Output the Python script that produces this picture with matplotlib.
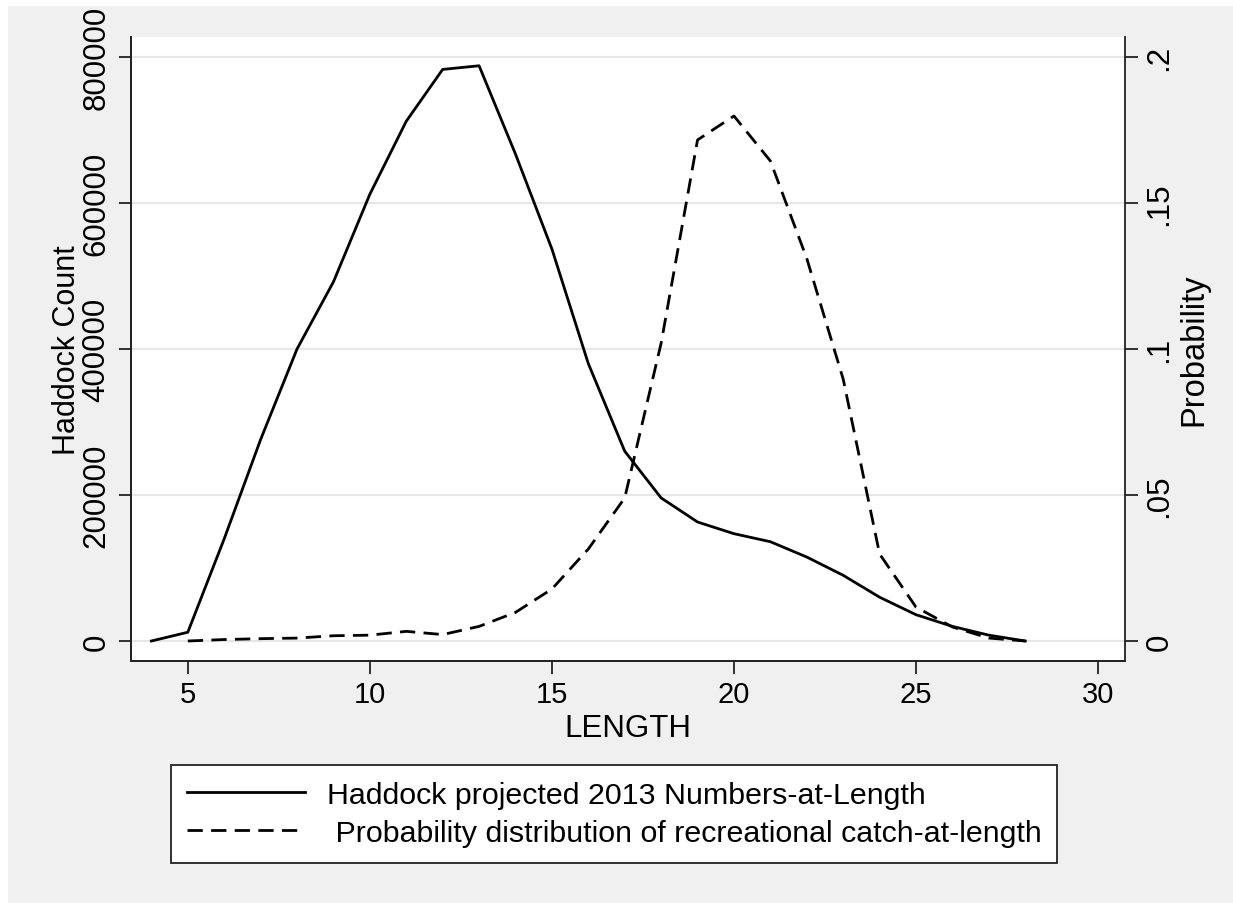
import numpy as np
import matplotlib
matplotlib.use('Agg')
import matplotlib.pyplot as plt
from matplotlib.patches import Rectangle

plt.rcParams['font.family'] = ['Liberation Sans', 'DejaVu Sans']

# haddock numbers-at-length (solid line, left axis)
len_count = [4, 5, 6, 7, 8, 9, 10, 11, 12, 13, 14, 15, 16, 17, 18, 19, 20,
             21, 22, 23, 24, 25, 26, 27, 28]
count = [0, 12000, 140000, 276000, 400000, 492000, 612000, 712000, 783000,
         788000, 667000, 537000, 380000, 260000, 196000, 163000, 147000,
         136000, 115000, 90000, 60000, 36000, 20000, 8000, 0]

# recreational catch probability (dashed line, right axis)
len_prob = [5, 6, 7, 8, 9, 10, 11, 12, 13, 14, 15, 16, 17, 18, 19, 20, 21,
            22, 23, 24, 25, 26, 27, 28]
prob = [0.0, 0.0005, 0.0008, 0.001, 0.0018, 0.002, 0.0033, 0.0022, 0.005,
        0.0098, 0.0178, 0.0315, 0.049, 0.102, 0.1716, 0.1798, 0.1644, 0.131,
        0.0897, 0.0298, 0.0116, 0.0048, 0.001, 0.0]

x_ticks = [5, 10, 15, 20, 25, 30]
count_ticks = [0, 200000, 400000, 600000, 800000]
prob_ticks = [0, 0.05, 0.1, 0.15, 0.2]
prob_labels = ['0', '.05', '.1', '.15', '.2']

W, H = 1233, 904
fig = plt.figure(figsize=(W / 100, H / 100), dpi=100, facecolor='white')
# grey graph region (white strip left/top from the original crop)
fig.patches.append(Rectangle((8 / W, 0), 1, 1 - 7 / H, transform=fig.transFigure,
                             facecolor='#f0f0f0', edgecolor='none', zorder=-10))

left, right, top, bottom = 131, 1125, 38, 662
ax = fig.add_axes([left / W, 1 - bottom / H, (right - left) / W, (bottom - top) / H])
ax.set_facecolor('white')

ax.plot(len_count, count, color='black', lw=2.0, zorder=3,
        label='Haddock projected 2013 Numbers-at-Length')

ax.set_xlim(3.44, 30.74)
ax.set_ylim(-27400, 827400)
ax.set_xticks(x_ticks)
ax.set_yticks(count_ticks)
ax.set_yticklabels([str(v) for v in count_ticks], rotation=90, va='center')
for v in count_ticks:
    ax.axhline(v, color='#e6e6e6', lw=1.5, zorder=1)

ax2 = ax.twinx()
ax2.plot(len_prob, prob, color='black', lw=2.0, dashes=(5.5, 3.0), zorder=3,
         label=' Probability distribution of recreational catch-at-length')
ax2.set_ylim(-27400 / 4e6, 827400 / 4e6)
ax2.set_yticks(prob_ticks)
ax2.set_yticklabels(prob_labels, rotation=90, va='center')

for a in (ax, ax2):
    a.spines['top'].set_visible(False)
    for s in a.spines.values():
        s.set_linewidth(1.3)
        s.set_color('#222222')
    a.tick_params(length=9, width=1.3, color='#222222', pad=5)
    a.tick_params(axis='y', labelsize=22.5)
ax.tick_params(axis='x', labelsize=21)
ax.spines['right'].set_visible(False)

ax.set_xlabel('LENGTH', fontsize=22.5, labelpad=3)
ax.set_ylabel('Haddock Count', fontsize=22, labelpad=0)
ax2.set_ylabel('Probability', fontsize=23.5, labelpad=3)

handles = ax.get_lines()[:1] + ax2.get_lines()[:1]
leg = fig.legend(handles=handles, labels=[h.get_label() for h in handles],
                 loc='center', bbox_to_anchor=((160 + 1068) / 2 / W, 1 - (764 + 866) / 2 / H),
                 fontsize=21.9, frameon=True, fancybox=False, framealpha=1,
                 handlelength=3.9, borderpad=0.52, labelspacing=0.32,
                 handletextpad=0.7)
leg.get_frame().set_edgecolor('#222222')
leg.get_frame().set_linewidth(1.3)

fig.savefig('out.png', dpi=100, facecolor=fig.get_facecolor())
